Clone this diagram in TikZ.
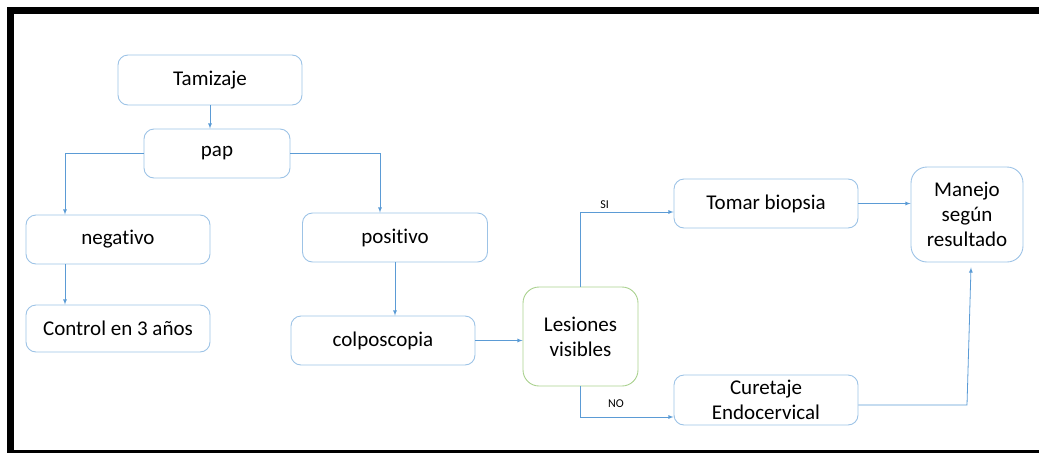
\documentclass[tikz,border=0pt]{standalone}
\usepackage{fontspec}
\setmainfont{Carlito}[Ligatures=CommonOff]
\usepackage{tikz}
\usetikzlibrary{shapes,arrows}
\definecolor{bordeazul}{RGB}{157,195,230}
\definecolor{lineaazul}{RGB}{91,155,213}
\definecolor{bordeverde}{RGB}{169,209,142}
\tikzstyle{caja}=[draw=bordeazul, line width=0.9pt, rounded corners=10pt, align=center, inner sep=0pt, font=\fontsize{21}{25}\selectfont]
\tikzstyle{flecha}=[draw=lineaazul, line width=0.8pt, -latex]
\tikzstyle{etiq}=[font=\fontsize{12}{14}\selectfont]

\begin{document}
\begin{tikzpicture}[x=1pt,y=-1pt]

\useasboundingbox (0,0) rectangle (1039,453);

% marco
\fill[black] (7,7) rectangle (1039,13.5);
\fill[black] (7,7) rectangle (14,453);
\fill[black] (7,449.5) rectangle (1039,453);

\node[caja, minimum width=184pt, minimum height=50pt] (tam) at (210,80) {Tamizaje};
\node[caja, minimum width=146pt, minimum height=49pt] (pap) at (217,153.5) {pap};
\node[caja, minimum width=184pt, minimum height=49pt] (neg) at (118,239.5) {negativo};
\node[caja, minimum width=185pt, minimum height=49pt] (pos) at (395,237.5) {positivo};
\node[caja, minimum width=184pt, minimum height=47pt] (ctrl) at (118,328.5) {Control en 3 años};
\node[caja, minimum width=184pt, minimum height=49pt] (colpo) at (383,340.5) {colposcopia};
\node[caja, draw=bordeverde, rounded corners=16pt, minimum width=115pt, minimum height=99pt] (les) at (580.5,336.5) {Lesiones\\visibles};
\node[caja, minimum width=184pt, minimum height=49pt] (biop) at (766,203.5) {Tomar biopsia};
\node[caja, minimum width=184pt, minimum height=50pt] (cur) at (766,400) {Curetaje\\Endocervical};
\node[caja, rounded corners=16pt, minimum width=112pt, minimum height=95pt] (man) at (967,214.5) {Manejo\\según\\resultado};

\coordinate (codo) at (967,405);

\draw[flecha] (tam.south) -- (tam.south |- pap.north);
\draw[flecha] (pap.west) -| ([xshift=-53pt]neg.north);
\draw[flecha] (pap.east) -| ([xshift=-15pt]pos.north);
\draw[flecha] ([xshift=-53pt]neg.south) -- ([xshift=-53pt]ctrl.north);
\draw[flecha] (pos.south) -- (pos.south |- colpo.north);
\draw[flecha] (colpo.east) -- (les.west |- colpo.east);
\draw[flecha] (les.north) |- node[etiq, above, pos=0.63] {SI} ([yshift=-8.5pt]biop.west);
\draw[flecha] (les.south) |- node[etiq, above, yshift=6pt, pos=0.69] {NO} ([yshift=-17pt]cur.west);
\draw[flecha] (biop.east) -- (man.west |- biop.east);
\draw[flecha] ([yshift=-5pt]cur.east) -- (codo) -- ([xshift=4pt,yshift=-5pt]man.south);

\end{tikzpicture}
\end{document}
